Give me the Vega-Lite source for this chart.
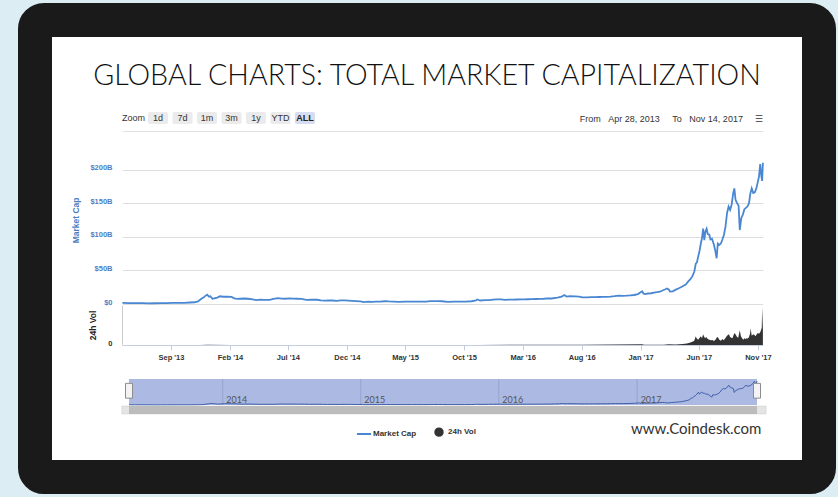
{
  "$schema": "https://vega.github.io/schema/vega-lite/v6.json",
  "width": 784,
  "height": 457,
  "autosize": "none",
  "padding": {"left": 35, "top": 20, "right": 19, "bottom": 20},
  "background": "#dcedf3",
  "config": {
    "view": {"fill": "#ffffff", "stroke": "#1a1a1a", "strokeWidth": 34, "cornerRadius": 9},
    "font": "Liberation Sans",
    "axis": {"labelFont": "Liberation Sans", "titleFont": "Liberation Sans"}
  },
  "title": {
    "text": "GLOBAL CHARTS: TOTAL MARKET CAPITALIZATION",
    "frame": "group",
    "anchor": "middle",
    "offset": -94,
    "baseline": "alphabetic",
    "font": "Lato",
    "fontSize": 28.6,
    "fontWeight": 300,
    "color": "#111111"
  },
  "datasets": {
    "buttons": [
      {"b": "Zoom"}, {"b": "1d"}, {"b": "7d"}, {"b": "1m"}, {"b": "3m"}, {"b": "1y"}, {"b": "YTD"}, {"b": "ALL"}
    ],
    "sel": [{"start": "2013-04-28", "end": "2017-11-14"}],
    "track": [{"start": "2013-04-09", "end": "2017-12-08"}],
    "years": [{"d": "2014-01-01"}, {"d": "2015-01-01"}, {"d": "2016-01-01"}, {"d": "2017-01-01"}],
    "cap": [
      {"date": "2013-04-28", "cap": 1.6}, {"date": "2013-05-15", "cap": 1.3}, {"date": "2013-06-01", "cap": 1.4},
      {"date": "2013-06-20", "cap": 1.2}, {"date": "2013-07-05", "cap": 0.9}, {"date": "2013-07-20", "cap": 1.1},
      {"date": "2013-08-05", "cap": 1.2}, {"date": "2013-08-20", "cap": 1.4}, {"date": "2013-09-05", "cap": 1.6},
      {"date": "2013-09-20", "cap": 1.6}, {"date": "2013-10-05", "cap": 1.6}, {"date": "2013-10-20", "cap": 2.2},
      {"date": "2013-11-01", "cap": 2.6}, {"date": "2013-11-10", "cap": 3.8}, {"date": "2013-11-18", "cap": 7.5},
      {"date": "2013-11-24", "cap": 9.5}, {"date": "2013-11-30", "cap": 12.5}, {"date": "2013-12-04", "cap": 14.0},
      {"date": "2013-12-08", "cap": 11.0}, {"date": "2013-12-12", "cap": 11.5}, {"date": "2013-12-18", "cap": 7.5},
      {"date": "2013-12-22", "cap": 8.5}, {"date": "2013-12-30", "cap": 9.5},
      {"date": "2014-01-06", "cap": 11.5}, {"date": "2014-01-15", "cap": 10.8}, {"date": "2014-01-25", "cap": 10.8},
      {"date": "2014-02-05", "cap": 10.5}, {"date": "2014-02-12", "cap": 8.5}, {"date": "2014-02-20", "cap": 7.5},
      {"date": "2014-02-28", "cap": 7.8}, {"date": "2014-03-10", "cap": 8.2}, {"date": "2014-03-20", "cap": 7.8},
      {"date": "2014-04-01", "cap": 6.8}, {"date": "2014-04-10", "cap": 5.8}, {"date": "2014-04-20", "cap": 6.5},
      {"date": "2014-05-01", "cap": 6.1}, {"date": "2014-05-15", "cap": 6.1}, {"date": "2014-05-25", "cap": 7.5},
      {"date": "2014-06-05", "cap": 8.6}, {"date": "2014-06-15", "cap": 8.0}, {"date": "2014-06-25", "cap": 7.8},
      {"date": "2014-07-05", "cap": 8.3}, {"date": "2014-07-15", "cap": 8.0}, {"date": "2014-07-25", "cap": 7.8},
      {"date": "2014-08-05", "cap": 7.5}, {"date": "2014-08-18", "cap": 6.2}, {"date": "2014-09-01", "cap": 6.6},
      {"date": "2014-09-15", "cap": 6.3}, {"date": "2014-09-25", "cap": 5.5}, {"date": "2014-10-05", "cap": 4.9},
      {"date": "2014-10-15", "cap": 5.4}, {"date": "2014-10-25", "cap": 5.2}, {"date": "2014-11-05", "cap": 4.6},
      {"date": "2014-11-15", "cap": 5.5}, {"date": "2014-11-25", "cap": 5.3}, {"date": "2014-12-05", "cap": 5.1},
      {"date": "2014-12-15", "cap": 4.7}, {"date": "2014-12-25", "cap": 4.4},
      {"date": "2015-01-05", "cap": 3.9}, {"date": "2015-01-14", "cap": 2.7}, {"date": "2015-01-25", "cap": 3.6},
      {"date": "2015-02-05", "cap": 3.2}, {"date": "2015-02-15", "cap": 3.4}, {"date": "2015-02-25", "cap": 3.6},
      {"date": "2015-03-10", "cap": 4.1}, {"date": "2015-03-20", "cap": 3.8}, {"date": "2015-04-01", "cap": 3.6},
      {"date": "2015-04-15", "cap": 3.3}, {"date": "2015-05-01", "cap": 3.5}, {"date": "2015-05-15", "cap": 3.4},
      {"date": "2015-06-01", "cap": 3.4}, {"date": "2015-06-15", "cap": 3.5}, {"date": "2015-06-25", "cap": 3.6},
      {"date": "2015-07-05", "cap": 4.2}, {"date": "2015-07-12", "cap": 4.4}, {"date": "2015-07-25", "cap": 4.4},
      {"date": "2015-08-05", "cap": 4.1}, {"date": "2015-08-20", "cap": 3.3}, {"date": "2015-09-05", "cap": 3.6},
      {"date": "2015-09-20", "cap": 3.5}, {"date": "2015-10-05", "cap": 3.6}, {"date": "2015-10-20", "cap": 4.1},
      {"date": "2015-11-01", "cap": 5.3}, {"date": "2015-11-04", "cap": 6.8}, {"date": "2015-11-12", "cap": 5.2},
      {"date": "2015-11-25", "cap": 5.7}, {"date": "2015-12-05", "cap": 5.9}, {"date": "2015-12-15", "cap": 6.6},
      {"date": "2015-12-25", "cap": 6.8},
      {"date": "2016-01-05", "cap": 7.0}, {"date": "2016-01-15", "cap": 6.2}, {"date": "2016-01-25", "cap": 6.4},
      {"date": "2016-02-05", "cap": 6.5}, {"date": "2016-02-15", "cap": 6.7}, {"date": "2016-02-25", "cap": 6.8},
      {"date": "2016-03-05", "cap": 6.9}, {"date": "2016-03-15", "cap": 7.1}, {"date": "2016-03-25", "cap": 7.3},
      {"date": "2016-04-05", "cap": 7.4}, {"date": "2016-04-15", "cap": 7.5}, {"date": "2016-04-25", "cap": 7.8},
      {"date": "2016-05-05", "cap": 8.3}, {"date": "2016-05-15", "cap": 8.2}, {"date": "2016-05-30", "cap": 9.6},
      {"date": "2016-06-10", "cap": 10.8}, {"date": "2016-06-17", "cap": 13.4}, {"date": "2016-06-23", "cap": 11.0},
      {"date": "2016-07-01", "cap": 11.8}, {"date": "2016-07-15", "cap": 11.3}, {"date": "2016-07-25", "cap": 11.0},
      {"date": "2016-08-03", "cap": 9.8}, {"date": "2016-08-15", "cap": 10.0}, {"date": "2016-08-25", "cap": 10.2},
      {"date": "2016-09-05", "cap": 10.3}, {"date": "2016-09-15", "cap": 10.4}, {"date": "2016-09-25", "cap": 10.5},
      {"date": "2016-10-05", "cap": 10.7}, {"date": "2016-10-15", "cap": 11.0}, {"date": "2016-10-25", "cap": 11.6},
      {"date": "2016-11-05", "cap": 12.5}, {"date": "2016-11-15", "cap": 12.2}, {"date": "2016-11-25", "cap": 12.4},
      {"date": "2016-12-05", "cap": 12.8}, {"date": "2016-12-15", "cap": 13.4}, {"date": "2016-12-25", "cap": 14.8},
      {"date": "2017-01-01", "cap": 17.5}, {"date": "2017-01-05", "cap": 19.0}, {"date": "2017-01-08", "cap": 15.6},
      {"date": "2017-01-12", "cap": 14.8}, {"date": "2017-01-20", "cap": 15.6}, {"date": "2017-01-28", "cap": 16.0},
      {"date": "2017-02-05", "cap": 17.0}, {"date": "2017-02-12", "cap": 17.5}, {"date": "2017-02-20", "cap": 18.3},
      {"date": "2017-02-28", "cap": 20.5}, {"date": "2017-03-05", "cap": 21.5}, {"date": "2017-03-10", "cap": 23.0},
      {"date": "2017-03-15", "cap": 21.5}, {"date": "2017-03-18", "cap": 18.5}, {"date": "2017-03-25", "cap": 18.8},
      {"date": "2017-04-01", "cap": 21.0}, {"date": "2017-04-10", "cap": 23.5}, {"date": "2017-04-20", "cap": 26.5},
      {"date": "2017-04-28", "cap": 29.0}, {"date": "2017-05-05", "cap": 34.0}, {"date": "2017-05-10", "cap": 37.0},
      {"date": "2017-05-15", "cap": 41.0}, {"date": "2017-05-20", "cap": 48.0}, {"date": "2017-05-24", "cap": 60.0},
      {"date": "2017-05-27", "cap": 62.0}, {"date": "2017-05-30", "cap": 70.0}, {"date": "2017-06-03", "cap": 80.0},
      {"date": "2017-06-06", "cap": 90.0}, {"date": "2017-06-09", "cap": 98.0}, {"date": "2017-06-12", "cap": 112},
      {"date": "2017-06-15", "cap": 95}, {"date": "2017-06-18", "cap": 108}, {"date": "2017-06-21", "cap": 112},
      {"date": "2017-06-24", "cap": 104}, {"date": "2017-06-28", "cap": 103}, {"date": "2017-07-01", "cap": 96},
      {"date": "2017-07-05", "cap": 97}, {"date": "2017-07-10", "cap": 88}, {"date": "2017-07-14", "cap": 78},
      {"date": "2017-07-17", "cap": 68}, {"date": "2017-07-20", "cap": 90}, {"date": "2017-07-24", "cap": 88},
      {"date": "2017-07-28", "cap": 90}, {"date": "2017-08-01", "cap": 96}, {"date": "2017-08-05", "cap": 103},
      {"date": "2017-08-09", "cap": 115}, {"date": "2017-08-13", "cap": 135}, {"date": "2017-08-17", "cap": 145},
      {"date": "2017-08-21", "cap": 140}, {"date": "2017-08-25", "cap": 148}, {"date": "2017-08-29", "cap": 165},
      {"date": "2017-09-01", "cap": 172}, {"date": "2017-09-04", "cap": 155}, {"date": "2017-09-08", "cap": 150},
      {"date": "2017-09-12", "cap": 146}, {"date": "2017-09-15", "cap": 110}, {"date": "2017-09-19", "cap": 128},
      {"date": "2017-09-23", "cap": 133}, {"date": "2017-09-27", "cap": 141}, {"date": "2017-10-01", "cap": 143},
      {"date": "2017-10-05", "cap": 145}, {"date": "2017-10-09", "cap": 150}, {"date": "2017-10-12", "cap": 163},
      {"date": "2017-10-16", "cap": 172}, {"date": "2017-10-20", "cap": 165}, {"date": "2017-10-24", "cap": 166},
      {"date": "2017-10-28", "cap": 172}, {"date": "2017-11-01", "cap": 182}, {"date": "2017-11-04", "cap": 190},
      {"date": "2017-11-07", "cap": 208}, {"date": "2017-11-10", "cap": 190}, {"date": "2017-11-12", "cap": 183},
      {"date": "2017-11-14", "cap": 210}
    ],
    "vol": [
      {"date": "2013-04-28", "v": 0.02}, {"date": "2013-08-01", "v": 0.02}, {"date": "2013-11-15", "v": 0.08},
      {"date": "2013-12-05", "v": 0.15}, {"date": "2014-02-01", "v": 0.06}, {"date": "2014-06-01", "v": 0.03},
      {"date": "2015-01-15", "v": 0.05}, {"date": "2015-11-04", "v": 0.08}, {"date": "2016-06-17", "v": 0.12},
      {"date": "2016-08-02", "v": 0.1}, {"date": "2017-01-05", "v": 0.5}, {"date": "2017-01-10", "v": 0.2},
      {"date": "2017-02-01", "v": 0.2}, {"date": "2017-03-01", "v": 0.25}, {"date": "2017-03-15", "v": 0.5},
      {"date": "2017-04-01", "v": 0.4}, {"date": "2017-04-20", "v": 0.7}, {"date": "2017-05-01", "v": 1.2},
      {"date": "2017-05-10", "v": 1.8}, {"date": "2017-05-15", "v": 2.5}, {"date": "2017-05-20", "v": 3.2},
      {"date": "2017-05-24", "v": 6.5}, {"date": "2017-05-26", "v": 5.0}, {"date": "2017-05-30", "v": 4.0},
      {"date": "2017-06-03", "v": 5.5}, {"date": "2017-06-06", "v": 6.5}, {"date": "2017-06-09", "v": 5.0},
      {"date": "2017-06-12", "v": 8.0}, {"date": "2017-06-14", "v": 6.5}, {"date": "2017-06-17", "v": 5.0},
      {"date": "2017-06-20", "v": 6.0}, {"date": "2017-06-24", "v": 4.5}, {"date": "2017-06-28", "v": 4.0},
      {"date": "2017-07-02", "v": 3.5}, {"date": "2017-07-06", "v": 3.8}, {"date": "2017-07-10", "v": 3.0},
      {"date": "2017-07-14", "v": 4.0}, {"date": "2017-07-17", "v": 5.5}, {"date": "2017-07-20", "v": 6.0},
      {"date": "2017-07-24", "v": 4.0}, {"date": "2017-07-28", "v": 3.2}, {"date": "2017-08-01", "v": 4.5},
      {"date": "2017-08-04", "v": 3.5}, {"date": "2017-08-08", "v": 4.8}, {"date": "2017-08-12", "v": 6.5},
      {"date": "2017-08-15", "v": 7.5}, {"date": "2017-08-18", "v": 8.0}, {"date": "2017-08-21", "v": 6.0},
      {"date": "2017-08-24", "v": 5.5}, {"date": "2017-08-27", "v": 5.0}, {"date": "2017-08-30", "v": 7.5},
      {"date": "2017-09-02", "v": 9.0}, {"date": "2017-09-05", "v": 7.5}, {"date": "2017-09-08", "v": 6.0},
      {"date": "2017-09-11", "v": 5.5}, {"date": "2017-09-14", "v": 9.5}, {"date": "2017-09-15", "v": 11.0},
      {"date": "2017-09-18", "v": 6.5}, {"date": "2017-09-21", "v": 5.0}, {"date": "2017-09-24", "v": 4.0},
      {"date": "2017-09-27", "v": 5.0}, {"date": "2017-09-30", "v": 4.5}, {"date": "2017-10-03", "v": 5.0},
      {"date": "2017-10-06", "v": 4.8}, {"date": "2017-10-09", "v": 6.0}, {"date": "2017-10-12", "v": 9.0},
      {"date": "2017-10-13", "v": 12.5}, {"date": "2017-10-16", "v": 7.0}, {"date": "2017-10-20", "v": 8.0},
      {"date": "2017-10-23", "v": 7.5}, {"date": "2017-10-26", "v": 6.5}, {"date": "2017-10-29", "v": 8.0},
      {"date": "2017-11-01", "v": 9.0}, {"date": "2017-11-04", "v": 8.5}, {"date": "2017-11-07", "v": 9.5},
      {"date": "2017-11-09", "v": 11.0}, {"date": "2017-11-11", "v": 13.0}, {"date": "2017-11-12", "v": 28.0},
      {"date": "2017-11-13", "v": 20.0}, {"date": "2017-11-14", "v": 12.0}
    ]
  },
  "resolve": {"scale": {"x": "independent", "y": "independent"}},
  "layer": [
    {
      "data": {"name": "buttons"},
      "encoding": {
        "x": {
          "field": "b", "type": "nominal", "sort": null,
          "scale": {"type": "band", "domain": ["Zoom", "1d", "7d", "1m", "3m", "1y", "YTD", "ALL"], "range": [86.25, 282.25], "paddingInner": 0.18, "paddingOuter": 0.09},
          "axis": null
        }
      },
      "layer": [
        {
          "transform": [{"filter": "datum.b !== 'Zoom'"}],
          "mark": {"type": "rect", "cornerRadius": 2},
          "encoding": {
            "y": {"datum": 0, "type": "quantitative", "scale": {"domain": [0, 1], "range": [104, 92], "nice": false, "zero": false}, "axis": null},
            "y2": {"datum": 1},
            "fill": {"condition": {"test": "datum.b === 'ALL'", "value": "#d6ddf2"}, "value": "#ebebeb"}
          }
        },
        {
          "transform": [{"filter": "datum.b !== 'ALL'"}],
          "mark": {"type": "text", "fontSize": 9, "color": "#333333", "baseline": "middle"},
          "encoding": {"y": {"datum": 0.5, "type": "quantitative"}, "text": {"field": "b"}}
        },
        {
          "transform": [{"filter": "datum.b === 'ALL'"}],
          "mark": {"type": "text", "fontSize": 9, "fontWeight": "bold", "color": "#222222", "baseline": "middle"},
          "encoding": {"y": {"datum": 0.5, "type": "quantitative"}, "text": {"field": "b"}}
        }
      ]
    },
    {
      "data": {"name": "cap"},
      "mark": {"type": "line", "strokeWidth": 1.8},
      "encoding": {
        "x": {
          "field": "date", "type": "temporal",
          "scale": {"type": "utc", "domain": [{"year": 2013, "month": 4, "date": 28, "utc": true}, {"year": 2017, "month": 11, "date": 14, "utc": true}], "range": [87.4, 727.9]},
          "axis": {
            "orient": "top", "offset": -111, "labels": false, "ticks": false, "grid": false,
            "domain": true, "domainColor": "#e2e2e2",
            "title": "From\u00a0\u00a0\u00a0Apr 28, 2013\u00a0\u00a0\u00a0\u00a0\u00a0To\u00a0\u00a0\u00a0Nov 14, 2017\u00a0\u00a0\u00a0\u00a0\u00a0\u2630",
            "titleAnchor": "end", "titlePadding": 8, "titleFontSize": 9, "titleFontWeight": "normal", "titleColor": "#333333"
          }
        },
        "y": {
          "field": "cap", "type": "quantitative",
          "scale": {"domain": [0, 250], "range": [284, 115.9], "nice": false},
          "axis": {
            "orient": "left", "offset": -87, "values": [0, 50, 100, 150, 200],
            "labelExpr": "datum.value === 0 ? '$0' : '$' + datum.value + 'B'",
            "grid": true, "gridColor": "#dddddd", "tickSize": 0, "domain": false,
            "labelPadding": 10, "labelBaseline": "alphabetic", "labelColor": "#4f7fc2",
            "labelFontSize": 7.5, "labelFontWeight": "bold",
            "title": "Market Cap", "titleColor": "#4f7fc2", "titleFontSize": 8.5, "titleFontWeight": "bold", "titlePadding": 9
          }
        },
        "color": {
          "datum": "Market Cap", "type": "nominal",
          "scale": {"domain": ["Market Cap", "24h Vol"], "range": ["#4a87d2", "#333333"]},
          "legend": {
            "orient": "none", "legendX": 324, "legendY": 407, "direction": "horizontal",
            "title": "www.Coindesk.com", "titleOrient": "right", "titlePadding": 155,
            "titleFont": "Lato", "titleFontSize": 15, "titleFontWeight": "normal", "titleColor": "#333333",
            "labelFont": "Liberation Sans", "labelFontSize": 8, "labelFontWeight": "bold", "labelColor": "#333333",
            "columnPadding": 14, "labelOffset": 4,
            "encode": {
              "title": {"update": {"dy": {"value": -4}}},
              "symbols": {
                "update": {
                  "shape": {"signal": "datum.value === 'Market Cap' ? 'stroke' : 'circle'"},
                  "size": {"signal": "datum.value === 'Market Cap' ? 200 : 55"},
                  "stroke": {"signal": "datum.value === 'Market Cap' ? '#7fb0e3' : 'transparent'"},
                  "fill": {"signal": "datum.value === 'Market Cap' ? 'transparent' : '#333333'"},
                  "strokeWidth": {"value": 2}
                }
              }
            }
          }
        }
      }
    },
    {
      "data": {"name": "vol"},
      "mark": {"type": "area"},
      "encoding": {
        "x": {
          "field": "date", "type": "temporal",
          "scale": {"type": "utc", "domain": [{"year": 2013, "month": 4, "date": 28, "utc": true}, {"year": 2017, "month": 11, "date": 14, "utc": true}], "range": [87.4, 727.9]},
          "axis": {
            "orient": "bottom", "offset": -132,
            "values": [
              {"year": 2013, "month": 9, "date": 1, "utc": true}, {"year": 2014, "month": 2, "date": 1, "utc": true},
              {"year": 2014, "month": 7, "date": 1, "utc": true}, {"year": 2014, "month": 12, "date": 1, "utc": true},
              {"year": 2015, "month": 5, "date": 1, "utc": true}, {"year": 2015, "month": 10, "date": 1, "utc": true},
              {"year": 2016, "month": 3, "date": 1, "utc": true}, {"year": 2016, "month": 8, "date": 1, "utc": true},
              {"year": 2017, "month": 1, "date": 1, "utc": true}, {"year": 2017, "month": 6, "date": 1, "utc": true},
              {"year": 2017, "month": 11, "date": 1, "utc": true}
            ],
            "format": "%b '%y", "grid": false, "tickSize": 5, "tickColor": "#c4cede", "domainColor": "#c4cede",
            "labelPadding": 3, "labelFontSize": 7.5, "labelFontWeight": "bold", "labelColor": "#333333",
            "labelFlush": false, "labelOverlap": false, "title": null
          }
        },
        "y": {
          "field": "v", "type": "quantitative",
          "scale": {"domain": [0, 30], "range": [325, 285], "nice": false},
          "axis": {
            "orient": "left", "offset": -87, "values": [0], "grid": false, "tickSize": 0,
            "domain": true, "domainColor": "#cccccc", "labelPadding": 10, "labelBaseline": "alphabetic",
            "labelColor": "#333333", "labelFontSize": 7.5, "labelFontWeight": "bold",
            "title": "24h Vol", "titleColor": "#222222", "titleFontSize": 8.5, "titleFontWeight": "bold", "titlePadding": 10
          }
        },
        "color": {"datum": "24h Vol", "type": "nominal"}
      }
    },
    {
      "layer": [
        {
          "data": {"name": "sel"},
          "mark": {"type": "rect", "color": "#abb9e3"},
          "encoding": {
            "x": {
              "field": "start", "type": "temporal",
              "scale": {"type": "utc", "domain": [{"year": 2013, "month": 4, "date": 28, "utc": true}, {"year": 2017, "month": 11, "date": 14, "utc": true}], "range": [94, 722]},
              "axis": {
                "orient": "bottom", "offset": -72,
                "values": [
                  {"year": 2014, "month": 1, "date": 1, "utc": true}, {"year": 2015, "month": 1, "date": 1, "utc": true},
                  {"year": 2016, "month": 1, "date": 1, "utc": true}, {"year": 2017, "month": 1, "date": 1, "utc": true}
                ],
                "format": "%Y", "grid": false, "ticks": false, "domain": false,
                "labelAlign": "left", "labelBaseline": "bottom", "labelPadding": -1, "labelOffset": 3,
                "labelFontSize": 9, "labelColor": "#555555", "labelFont": "Lato",
                "labelFlush": false, "labelOverlap": false, "labelBound": false, "zindex": 1, "title": null
              }
            },
            "x2": {"field": "end"},
            "y": {"datum": 0, "type": "quantitative", "scale": {"domain": [0, 228], "range": [385, 359], "nice": false}, "axis": null},
            "y2": {"datum": 228}
          }
        },
        {
          "data": {"name": "years"},
          "mark": {"type": "rule", "color": "#96a4cd", "strokeWidth": 1},
          "encoding": {
            "x": {"field": "d", "type": "temporal"},
            "y": {"datum": 0, "type": "quantitative"},
            "y2": {"datum": 228}
          }
        },
        {
          "data": {"name": "cap"},
          "mark": {"type": "line", "color": "#3f5fa8", "strokeWidth": 1},
          "encoding": {
            "x": {"field": "date", "type": "temporal"},
            "y": {"field": "cap", "type": "quantitative"}
          }
        },
        {
          "data": {"name": "sel"},
          "mark": {"type": "rect", "width": 7, "fill": "#f3f3f3", "stroke": "#8c8c8c", "strokeWidth": 1},
          "encoding": {
            "x": {"field": "start", "type": "temporal"},
            "y": {"datum": 60, "type": "quantitative"},
            "y2": {"datum": 190}
          }
        },
        {
          "data": {"name": "sel"},
          "mark": {"type": "rect", "width": 7, "fill": "#f3f3f3", "stroke": "#8c8c8c", "strokeWidth": 1},
          "encoding": {
            "x": {"field": "end", "type": "temporal"},
            "y": {"datum": 60, "type": "quantitative"},
            "y2": {"datum": 190}
          }
        }
      ]
    },
    {
      "layer": [
        {
          "data": {"name": "track"},
          "mark": {"type": "rect", "color": "#e4e4e4", "stroke": "#cccccc", "strokeWidth": 0.5},
          "encoding": {
            "x": {
              "field": "start", "type": "temporal",
              "scale": {"type": "utc", "domain": [{"year": 2013, "month": 4, "date": 28, "utc": true}, {"year": 2017, "month": 11, "date": 14, "utc": true}], "range": [94, 722]},
              "axis": null
            },
            "x2": {"field": "end"},
            "y": {"datum": 0, "type": "quantitative", "scale": {"domain": [0, 1], "range": [394, 386], "nice": false, "zero": false}, "axis": null},
            "y2": {"datum": 1}
          }
        },
        {
          "data": {"name": "sel"},
          "mark": {"type": "rect", "color": "#bcbcbc"},
          "encoding": {
            "x": {"field": "start", "type": "temporal"},
            "x2": {"field": "end"},
            "y": {"datum": 0, "type": "quantitative"},
            "y2": {"datum": 1}
          }
        }
      ]
    }
  ]
}
